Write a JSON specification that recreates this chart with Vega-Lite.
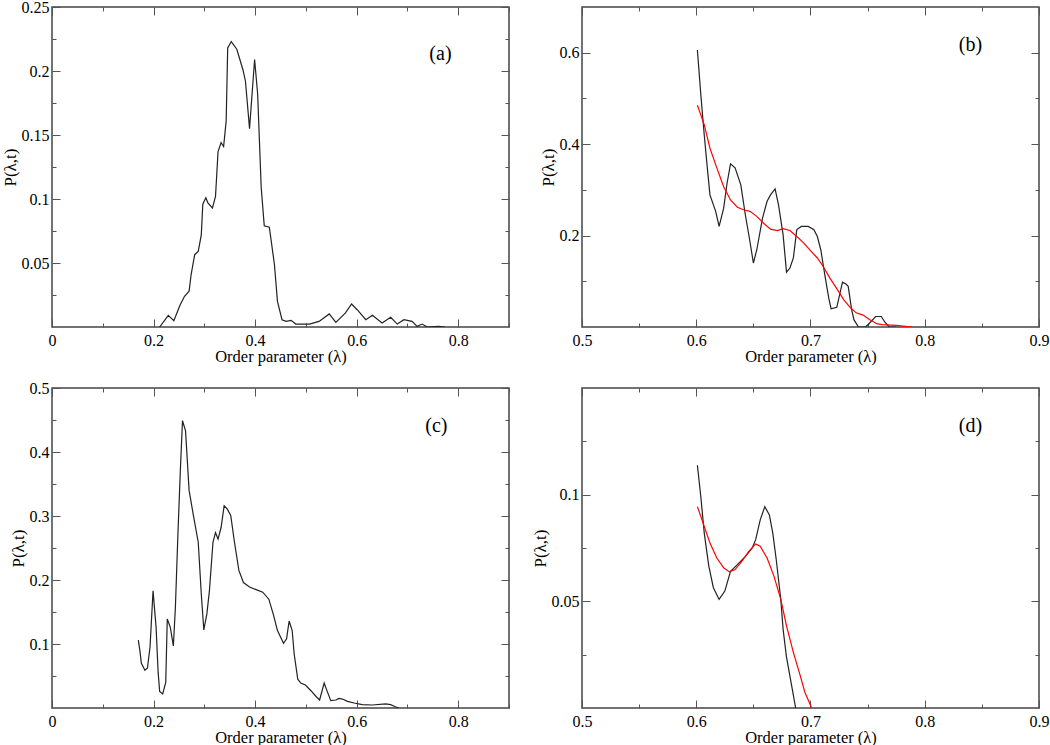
{
  "$schema": "https://vega.github.io/schema/vega-lite/v6.json",
  "padding": {"left": 0, "top": -2, "right": 0, "bottom": 0},
  "background": "white",
  "columns": 2,
  "spacing": {"row": 61, "column": 73},
  "bounds": "flush",
  "config": {
    "view": {"stroke": "#444444", "strokeWidth": 1.5},
    "axis": {
      "domain": false, "grid": false, "tickSize": -6,
      "labelFont": "Liberation Serif", "labelFontSize": 16, "labelColor": "#000000",
      "titleFont": "Liberation Serif", "titleFontSize": 16.5, "titleFontWeight": "normal", "titleColor": "#000000",
      "tickColor": "#555555", "tickWidth": 1,
      "labelFlush": false, "labelOverlap": false
    },
    "axisX": {"labelPadding": 13, "titlePadding": -4},
    "axisY": {"labelPadding": 11, "titlePadding": 2}
  },
  "datasets": {
    "a": [
      {"x":0.212,"y":0},{"x":0.229,"y":0.0091},{"x":0.240,"y":0.005},{"x":0.252,"y":0.017},{"x":0.261,"y":0.024},{"x":0.270,"y":0.028},{"x":0.274,"y":0.041},{"x":0.281,"y":0.0565},{"x":0.288,"y":0.059},{"x":0.294,"y":0.072},{"x":0.297,"y":0.096},{"x":0.303,"y":0.101},{"x":0.307,"y":0.097},{"x":0.316,"y":0.093},{"x":0.322,"y":0.102},{"x":0.327,"y":0.137},{"x":0.333,"y":0.144},{"x":0.338,"y":0.141},{"x":0.343,"y":0.161},{"x":0.346,"y":0.218},{"x":0.353,"y":0.223},{"x":0.364,"y":0.217},{"x":0.376,"y":0.201},{"x":0.381,"y":0.192},{"x":0.389,"y":0.155},{"x":0.399,"y":0.209},{"x":0.405,"y":0.182},{"x":0.412,"y":0.109},{"x":0.418,"y":0.079},{"x":0.428,"y":0.078},{"x":0.438,"y":0.049},{"x":0.444,"y":0.020},{"x":0.453,"y":0.0057},{"x":0.461,"y":0.0044},{"x":0.471,"y":0.0052},{"x":0.480,"y":0.0023},{"x":0.507,"y":0.0023},{"x":0.526,"y":0.0044},{"x":0.546,"y":0.0102},{"x":0.559,"y":0.0036},{"x":0.578,"y":0.011},{"x":0.590,"y":0.018},{"x":0.601,"y":0.0135},{"x":0.618,"y":0.0057},{"x":0.631,"y":0.0091},{"x":0.650,"y":0.0031},{"x":0.667,"y":0.0076},{"x":0.680,"y":0.0023},{"x":0.693,"y":0.0057},{"x":0.709,"y":0.0044},{"x":0.719,"y":0.0005},{"x":0.729,"y":0.0023},{"x":0.739,"y":0},{"x":0.761,"y":0.0005},{"x":0.774,"y":0}
    ],
    "bk": [
      {"x":0.601,"y":0.606},{"x":0.604,"y":0.508},{"x":0.607,"y":0.420},{"x":0.610,"y":0.340},{"x":0.612,"y":0.289},{"x":0.617,"y":0.253},{"x":0.620,"y":0.220},{"x":0.624,"y":0.260},{"x":0.627,"y":0.315},{"x":0.630,"y":0.357},{"x":0.634,"y":0.348},{"x":0.639,"y":0.311},{"x":0.643,"y":0.245},{"x":0.647,"y":0.187},{"x":0.650,"y":0.140},{"x":0.653,"y":0.169},{"x":0.658,"y":0.238},{"x":0.662,"y":0.275},{"x":0.665,"y":0.289},{"x":0.669,"y":0.302},{"x":0.672,"y":0.267},{"x":0.676,"y":0.202},{"x":0.679,"y":0.120},{"x":0.682,"y":0.129},{"x":0.685,"y":0.151},{"x":0.688,"y":0.213},{"x":0.692,"y":0.220},{"x":0.698,"y":0.220},{"x":0.703,"y":0.213},{"x":0.706,"y":0.198},{"x":0.709,"y":0.169},{"x":0.713,"y":0.107},{"x":0.716,"y":0.063},{"x":0.718,"y":0.040},{"x":0.723,"y":0.043},{"x":0.728,"y":0.098},{"x":0.731,"y":0.094},{"x":0.733,"y":0.089},{"x":0.736,"y":0.038},{"x":0.738,"y":0.016},{"x":0.742,"y":0},{"x":0.748,"y":0},{"x":0.751,"y":0.0066},{"x":0.757,"y":0.023},{"x":0.762,"y":0.023},{"x":0.765,"y":0.011},{"x":0.769,"y":0},{"x":0.775,"y":0}
    ],
    "br": [
      {"x":0.601,"y":0.485},{"x":0.604,"y":0.464},{"x":0.607,"y":0.442},{"x":0.612,"y":0.391},{"x":0.618,"y":0.348},{"x":0.624,"y":0.307},{"x":0.630,"y":0.278},{"x":0.636,"y":0.262},{"x":0.642,"y":0.256},{"x":0.647,"y":0.253},{"x":0.653,"y":0.242},{"x":0.659,"y":0.227},{"x":0.665,"y":0.214},{"x":0.671,"y":0.211},{"x":0.676,"y":0.215},{"x":0.682,"y":0.211},{"x":0.688,"y":0.198},{"x":0.694,"y":0.184},{"x":0.700,"y":0.167},{"x":0.706,"y":0.151},{"x":0.711,"y":0.133},{"x":0.717,"y":0.107},{"x":0.723,"y":0.084},{"x":0.729,"y":0.060},{"x":0.735,"y":0.042},{"x":0.740,"y":0.031},{"x":0.746,"y":0.026},{"x":0.752,"y":0.016},{"x":0.758,"y":0.0073},{"x":0.763,"y":0.0051},{"x":0.775,"y":0.0036},{"x":0.783,"y":0.0015},{"x":0.789,"y":0}
    ],
    "c": [
      {"x":0.170,"y":0.106},{"x":0.173,"y":0.090},{"x":0.176,"y":0.070},{"x":0.183,"y":0.059},{"x":0.188,"y":0.0625},{"x":0.193,"y":0.095},{"x":0.199,"y":0.183},{"x":0.205,"y":0.126},{"x":0.209,"y":0.056},{"x":0.212,"y":0.026},{"x":0.218,"y":0.022},{"x":0.224,"y":0.040},{"x":0.227,"y":0.139},{"x":0.233,"y":0.126},{"x":0.239,"y":0.097},{"x":0.243,"y":0.157},{"x":0.248,"y":0.272},{"x":0.253,"y":0.376},{"x":0.257,"y":0.449},{"x":0.263,"y":0.433},{"x":0.270,"y":0.340},{"x":0.278,"y":0.303},{"x":0.288,"y":0.259},{"x":0.294,"y":0.178},{"x":0.299,"y":0.122},{"x":0.305,"y":0.147},{"x":0.310,"y":0.183},{"x":0.317,"y":0.259},{"x":0.322,"y":0.274},{"x":0.327,"y":0.264},{"x":0.333,"y":0.282},{"x":0.339,"y":0.316},{"x":0.345,"y":0.311},{"x":0.352,"y":0.301},{"x":0.359,"y":0.261},{"x":0.368,"y":0.215},{"x":0.377,"y":0.196},{"x":0.389,"y":0.189},{"x":0.402,"y":0.185},{"x":0.415,"y":0.181},{"x":0.427,"y":0.170},{"x":0.436,"y":0.146},{"x":0.444,"y":0.121},{"x":0.456,"y":0.101},{"x":0.462,"y":0.108},{"x":0.467,"y":0.136},{"x":0.473,"y":0.121},{"x":0.477,"y":0.084},{"x":0.484,"y":0.045},{"x":0.490,"y":0.039},{"x":0.499,"y":0.036},{"x":0.510,"y":0.027},{"x":0.520,"y":0.018},{"x":0.527,"y":0.0125},{"x":0.536,"y":0.039},{"x":0.542,"y":0.026},{"x":0.549,"y":0.0115},{"x":0.559,"y":0.0125},{"x":0.565,"y":0.015},{"x":0.572,"y":0.014},{"x":0.582,"y":0.0104},{"x":0.595,"y":0.0078},{"x":0.611,"y":0.0052},{"x":0.631,"y":0.0047},{"x":0.657,"y":0.0063},{"x":0.667,"y":0.0052},{"x":0.676,"y":0.002},{"x":0.683,"y":0}
    ],
    "dk": [
      {"x":0.601,"y":0.1138},{"x":0.604,"y":0.099},{"x":0.607,"y":0.082},{"x":0.611,"y":0.0665},{"x":0.615,"y":0.0564},{"x":0.620,"y":0.0509},{"x":0.625,"y":0.0548},{"x":0.630,"y":0.0641},{"x":0.636,"y":0.0672},{"x":0.643,"y":0.0711},{"x":0.649,"y":0.075},{"x":0.652,"y":0.0789},{"x":0.656,"y":0.0882},{"x":0.660,"y":0.0944},{"x":0.664,"y":0.0905},{"x":0.667,"y":0.082},{"x":0.670,"y":0.0696},{"x":0.674,"y":0.0509},{"x":0.676,"y":0.037},{"x":0.679,"y":0.0238},{"x":0.684,"y":0.009},{"x":0.687,"y":0}
    ],
    "dr": [
      {"x":0.601,"y":0.0944},{"x":0.604,"y":0.0898},{"x":0.607,"y":0.0851},{"x":0.612,"y":0.0773},{"x":0.618,"y":0.0703},{"x":0.624,"y":0.0657},{"x":0.629,"y":0.0638},{"x":0.634,"y":0.0649},{"x":0.640,"y":0.0688},{"x":0.646,"y":0.0734},{"x":0.652,"y":0.0769},{"x":0.656,"y":0.0758},{"x":0.662,"y":0.0703},{"x":0.668,"y":0.0618},{"x":0.674,"y":0.0509},{"x":0.679,"y":0.0385},{"x":0.685,"y":0.0261},{"x":0.691,"y":0.0152},{"x":0.695,"y":0.0075},{"x":0.701,"y":0}
    ]
  },
  "concat": [
    {
      "width": 457, "height": 320,
      "resolve": {"scale": {"x": "independent", "y": "independent"}},
      "layer": [
        {
          "data": {"name": "a"},
          "mark": {"type": "line", "color": "#222222", "strokeWidth": 1.2, "clip": true},
          "encoding": {
            "x": {"field": "x", "type": "quantitative", "scale": {"domain": [0, 0.9], "nice": false},
              "axis": {"orient": "bottom", "title": "Order parameter (λ)", "values": [0,0.1,0.2,0.3,0.4,0.5,0.6,0.7,0.8,0.9],
                "labelExpr": "abs(datum.value*5-round(datum.value*5))<0.001 ? format(datum.value,'~g') : ''",
                "tickSize": {"condition": {"test": "abs(datum.value*5-round(datum.value*5))<0.001", "value": -8}, "value": -4}}},
            "y": {"field": "y", "type": "quantitative", "scale": {"domain": [0, 0.25], "nice": false},
              "axis": {"orient": "left", "title": "P(λ,t)", "titleFontSize": 17, "values": [0.025,0.05,0.075,0.1,0.125,0.15,0.175,0.2,0.225,0.25],
                "labelExpr": "abs(datum.value*20-round(datum.value*20))<0.001 ? format(datum.value,'~g') : ''",
                "tickSize": {"condition": {"test": "abs(datum.value*20-round(datum.value*20))<0.001", "value": -8}, "value": -4}}}
          }
        },
        {
          "data": {"values": [{"x": 0.765, "y": 0.213, "t": "(a)"}]},
          "mark": {"type": "text", "font": "Liberation Serif", "fontSize": 20, "color": "#000000"},
          "encoding": {
            "x": {"field": "x", "type": "quantitative", "scale": {"domain": [0, 0.9], "nice": false},
              "axis": {"orient": "top", "title": null, "labels": false, "values": [0,0.1,0.2,0.3,0.4,0.5,0.6,0.7,0.8,0.9],
                "tickSize": {"condition": {"test": "abs(datum.value*5-round(datum.value*5))<0.001", "value": -8}, "value": -4}}},
            "y": {"field": "y", "type": "quantitative", "scale": {"domain": [0, 0.25], "nice": false},
              "axis": {"orient": "right", "title": null, "labels": false, "values": [0.025,0.05,0.075,0.1,0.125,0.15,0.175,0.2,0.225,0.25],
                "tickSize": {"condition": {"test": "abs(datum.value*20-round(datum.value*20))<0.001", "value": -8}, "value": -4}}},
            "text": {"field": "t", "type": "nominal"}
          }
        }
      ]
    },
    {
      "width": 457, "height": 320,
      "resolve": {"scale": {"x": "independent", "y": "independent"}},
      "layer": [
        {
          "data": {"name": "bk"},
          "mark": {"type": "line", "color": "#222222", "strokeWidth": 1.2, "clip": true},
          "encoding": {
            "x": {"field": "x", "type": "quantitative", "scale": {"domain": [0.5, 0.9], "nice": false},
              "axis": {"orient": "bottom", "title": "Order parameter (λ)", "values": [0.5,0.55,0.6,0.65,0.7,0.75,0.8,0.85,0.9],
                "labelExpr": "abs(datum.value*10-round(datum.value*10))<0.001 ? format(datum.value,'~g') : ''",
                "tickSize": {"condition": {"test": "abs(datum.value*10-round(datum.value*10))<0.001", "value": -8}, "value": -4}}},
            "y": {"field": "y", "type": "quantitative", "scale": {"domain": [0, 0.7], "nice": false},
              "axis": {"orient": "left", "title": "P(λ,t)", "titleFontSize": 17, "values": [0.1,0.2,0.3,0.4,0.5,0.6],
                "labelExpr": "abs(datum.value*5-round(datum.value*5))<0.001 ? format(datum.value,'~g') : ''",
                "tickSize": {"condition": {"test": "abs(datum.value*5-round(datum.value*5))<0.001", "value": -8}, "value": -4}}}
          }
        },
        {
          "data": {"name": "br"},
          "mark": {"type": "line", "color": "#ff0000", "strokeWidth": 1.2, "clip": true},
          "encoding": {
            "x": {"field": "x", "type": "quantitative", "scale": {"domain": [0.5, 0.9], "nice": false}, "axis": null},
            "y": {"field": "y", "type": "quantitative", "scale": {"domain": [0, 0.7], "nice": false}, "axis": null}
          }
        },
        {
          "data": {"values": [{"x": 0.84, "y": 0.617, "t": "(b)"}]},
          "mark": {"type": "text", "font": "Liberation Serif", "fontSize": 20, "color": "#000000"},
          "encoding": {
            "x": {"field": "x", "type": "quantitative", "scale": {"domain": [0.5, 0.9], "nice": false},
              "axis": {"orient": "top", "title": null, "labels": false, "values": [0.5,0.55,0.6,0.65,0.7,0.75,0.8,0.85,0.9],
                "tickSize": {"condition": {"test": "abs(datum.value*10-round(datum.value*10))<0.001", "value": -8}, "value": -4}}},
            "y": {"field": "y", "type": "quantitative", "scale": {"domain": [0, 0.7], "nice": false},
              "axis": {"orient": "right", "title": null, "labels": false, "values": [0.1,0.2,0.3,0.4,0.5,0.6],
                "tickSize": {"condition": {"test": "abs(datum.value*5-round(datum.value*5))<0.001", "value": -8}, "value": -4}}},
            "text": {"field": "t", "type": "nominal"}
          }
        }
      ]
    },
    {
      "width": 457, "height": 320,
      "resolve": {"scale": {"x": "independent", "y": "independent"}},
      "layer": [
        {
          "data": {"name": "c"},
          "mark": {"type": "line", "color": "#222222", "strokeWidth": 1.2, "clip": true},
          "encoding": {
            "x": {"field": "x", "type": "quantitative", "scale": {"domain": [0, 0.9], "nice": false},
              "axis": {"orient": "bottom", "title": "Order parameter (λ)", "values": [0,0.1,0.2,0.3,0.4,0.5,0.6,0.7,0.8,0.9],
                "labelExpr": "abs(datum.value*5-round(datum.value*5))<0.001 ? format(datum.value,'~g') : ''",
                "tickSize": {"condition": {"test": "abs(datum.value*5-round(datum.value*5))<0.001", "value": -8}, "value": -4}}},
            "y": {"field": "y", "type": "quantitative", "scale": {"domain": [0, 0.5], "nice": false},
              "axis": {"orient": "left", "title": "P(λ,t)", "titleFontSize": 17, "values": [0.05,0.1,0.15,0.2,0.25,0.3,0.35,0.4,0.45,0.5],
                "labelExpr": "abs(datum.value*10-round(datum.value*10))<0.001 ? format(datum.value,'~g') : ''",
                "tickSize": {"condition": {"test": "abs(datum.value*10-round(datum.value*10))<0.001", "value": -8}, "value": -4}}}
          }
        },
        {
          "data": {"values": [{"x": 0.757, "y": 0.441, "t": "(c)"}]},
          "mark": {"type": "text", "font": "Liberation Serif", "fontSize": 20, "color": "#000000"},
          "encoding": {
            "x": {"field": "x", "type": "quantitative", "scale": {"domain": [0, 0.9], "nice": false},
              "axis": {"orient": "top", "title": null, "labels": false, "values": [0,0.1,0.2,0.3,0.4,0.5,0.6,0.7,0.8,0.9],
                "tickSize": {"condition": {"test": "abs(datum.value*5-round(datum.value*5))<0.001", "value": -8}, "value": -4}}},
            "y": {"field": "y", "type": "quantitative", "scale": {"domain": [0, 0.5], "nice": false},
              "axis": {"orient": "right", "title": null, "labels": false, "values": [0.05,0.1,0.15,0.2,0.25,0.3,0.35,0.4,0.45,0.5],
                "tickSize": {"condition": {"test": "abs(datum.value*10-round(datum.value*10))<0.001", "value": -8}, "value": -4}}},
            "text": {"field": "t", "type": "nominal"}
          }
        }
      ]
    },
    {
      "width": 457, "height": 320,
      "resolve": {"scale": {"x": "independent", "y": "independent"}},
      "layer": [
        {
          "data": {"name": "dk"},
          "mark": {"type": "line", "color": "#222222", "strokeWidth": 1.2, "clip": true},
          "encoding": {
            "x": {"field": "x", "type": "quantitative", "scale": {"domain": [0.5, 0.9], "nice": false},
              "axis": {"orient": "bottom", "title": "Order parameter (λ)", "values": [0.5,0.55,0.6,0.65,0.7,0.75,0.8,0.85,0.9],
                "labelExpr": "abs(datum.value*10-round(datum.value*10))<0.001 ? format(datum.value,'~g') : ''",
                "tickSize": {"condition": {"test": "abs(datum.value*10-round(datum.value*10))<0.001", "value": -8}, "value": -4}}},
            "y": {"field": "y", "type": "quantitative", "scale": {"domain": [0, 0.15], "nice": false},
              "axis": {"orient": "left", "title": "P(λ,t)", "titleFontSize": 17, "values": [0.025,0.05,0.075,0.1,0.125],
                "labelExpr": "abs(datum.value*20-round(datum.value*20))<0.001 ? format(datum.value,'~g') : ''",
                "tickSize": {"condition": {"test": "abs(datum.value*20-round(datum.value*20))<0.001", "value": -8}, "value": -4}}}
          }
        },
        {
          "data": {"name": "dr"},
          "mark": {"type": "line", "color": "#ff0000", "strokeWidth": 1.2, "clip": true},
          "encoding": {
            "x": {"field": "x", "type": "quantitative", "scale": {"domain": [0.5, 0.9], "nice": false}, "axis": null},
            "y": {"field": "y", "type": "quantitative", "scale": {"domain": [0, 0.15], "nice": false}, "axis": null}
          }
        },
        {
          "data": {"values": [{"x": 0.84, "y": 0.132, "t": "(d)"}]},
          "mark": {"type": "text", "font": "Liberation Serif", "fontSize": 20, "color": "#000000"},
          "encoding": {
            "x": {"field": "x", "type": "quantitative", "scale": {"domain": [0.5, 0.9], "nice": false},
              "axis": {"orient": "top", "title": null, "labels": false, "values": [0.5,0.55,0.6,0.65,0.7,0.75,0.8,0.85,0.9],
                "tickSize": {"condition": {"test": "abs(datum.value*10-round(datum.value*10))<0.001", "value": -8}, "value": -4}}},
            "y": {"field": "y", "type": "quantitative", "scale": {"domain": [0, 0.15], "nice": false},
              "axis": {"orient": "right", "title": null, "labels": false, "values": [0.025,0.05,0.075,0.1,0.125],
                "tickSize": {"condition": {"test": "abs(datum.value*20-round(datum.value*20))<0.001", "value": -8}, "value": -4}}},
            "text": {"field": "t", "type": "nominal"}
          }
        }
      ]
    }
  ]
}
